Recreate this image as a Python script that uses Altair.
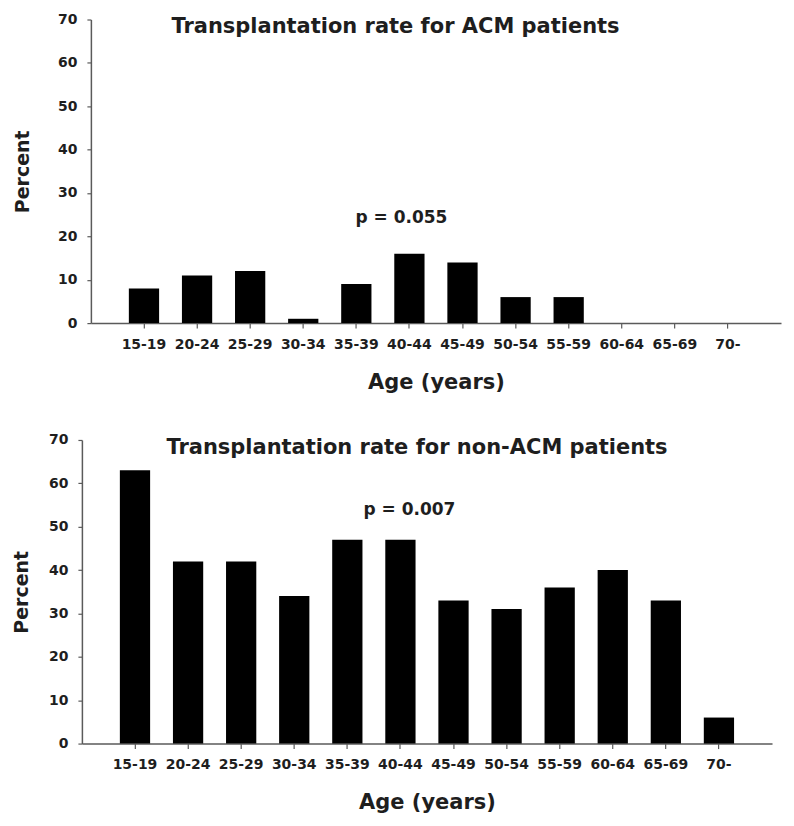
import altair as alt
import pandas as pd

ages = ["15-19", "20-24", "25-29", "30-34", "35-39", "40-44",
        "45-49", "50-54", "55-59", "60-64", "65-69", "70-"]
acm_pct = [8, 11, 12, 1, 9, 16, 14, 6, 6, 0, 0, 0]
non_acm_pct = [63, 42, 42, 34, 47, 47, 33, 31, 36, 40, 33, 6]
y_ticks = [0, 10, 20, 30, 40, 50, 60, 70]

FONT = "DejaVu Sans"
TXT = "#1e1e1e"
AX = "#5a5a5a"


def panel(values, title, pval, p_y, p_dx, title_dx, y_title_pad, offset, shift):
    df = pd.DataFrame({"age": ages, "pct": values})
    x = alt.X("age:N", sort=ages, title="Age (years)",
              scale=alt.Scale(paddingInner=0.43, paddingOuter=0.715,
                              range=[shift, 691 + shift]),
              axis=alt.Axis(labelAngle=0, labelFont=FONT, labelFontSize=14,
                            labelFontWeight="bold", labelColor=TXT,
                            labelPadding=9, tickSize=5, tickColor=AX,
                            domainColor=AX, domainWidth=1.5, tickWidth=1.2,
                            titleFont=FONT, titleFontSize=21,
                            titleFontWeight="bold", titleColor=TXT,
                            titlePadding=20))
    y = alt.Y("pct:Q", title="Percent",
              scale=alt.Scale(domain=[0, 70], nice=False),
              axis=alt.Axis(values=y_ticks, grid=False, labelFont=FONT,
                            labelFontSize=14, labelFontWeight="bold",
                            labelColor=TXT, labelPadding=10, tickSize=4,
                            tickColor=AX, domainColor=AX, domainWidth=1.5,
                            tickWidth=1.2, titleFont=FONT, titleFontSize=19,
                            titleFontWeight="bold", titleColor=TXT,
                            titlePadding=y_title_pad, offset=-shift))
    bars = alt.Chart(df).mark_bar(color="#000000").encode(x=x, y=y)
    ptext = alt.Chart(pd.DataFrame({"t": [pval]})).mark_text(
        font=FONT, fontSize=17, fontWeight="bold", color=TXT,
        align="center", baseline="alphabetic", dx=p_dx).encode(
        x=alt.datum("40-44"), y=alt.datum(p_y), text="t:N")
    return alt.layer(bars, ptext).properties(
        width=691 + shift, height=304,
        title=alt.TitleParams(text=title, anchor="middle",
                              font=FONT, fontSize=21, fontWeight="bold",
                              color=TXT, dx=title_dx, offset=offset))


top = panel(acm_pct, "Transplantation rate for ACM patients", "p = 0.055",
            23.0, -8, -36, 25, -25, 9)
bottom = panel(non_acm_pct, "Transplantation rate for non-ACM patients",
               "p = 0.007", 52.6, 9, -10, 17, -25, 0)

chart = alt.vconcat(top, bottom, spacing=41).configure_view(
    stroke=None).properties(padding={"left": 4, "top": 4, "right": 5, "bottom": 5})

chart.save("out.html", embed_options={"renderer": "svg", "actions": False})
